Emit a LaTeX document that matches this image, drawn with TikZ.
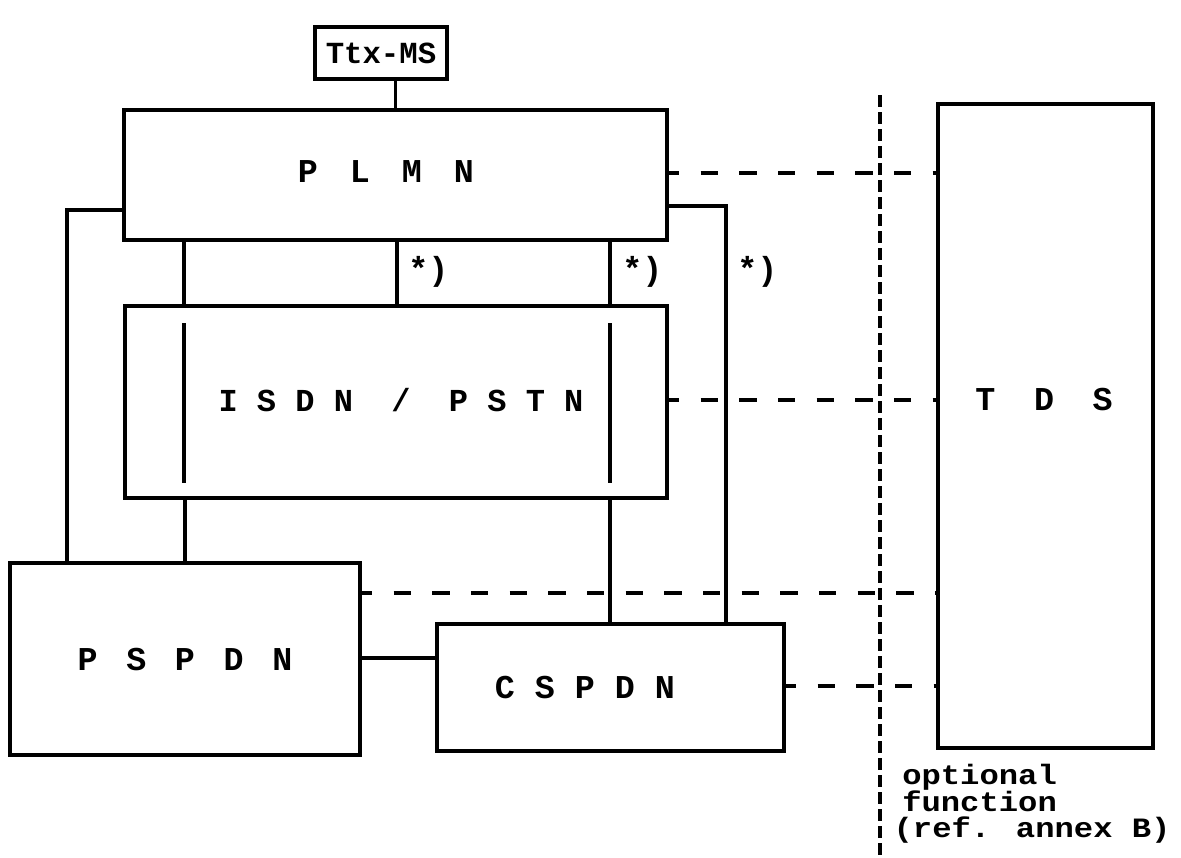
\documentclass[tikz,border=0pt]{standalone}
\usepackage{fontspec}
\setmonofont{Liberation Mono}
\newfontface\optfont[FakeStretch=1.15]{Liberation Mono Bold}
\begin{document}
\begin{tikzpicture}[x=0.75pt,y=-0.75pt,
  every node/.style={font=\ttfamily\bfseries\fontsize{25}{17.5}\selectfont},
  netbox/.style={draw, line width=2.5pt, rectangle, inner sep=0pt},
  wire/.style={line width=2.5pt},
  optline/.style={line width=2.3pt, dash pattern=on 13pt off 16pt, dash phase=5pt},
  sepline/.style={line width=3pt, dash pattern=on 9pt off 3.75pt},
  lbl/.style={inner sep=0pt}]
\useasboundingbox (0,0) rectangle (1181,857);
% boxes
\node[netbox, minimum width=99pt, minimum height=39pt, font=\ttfamily\bfseries\fontsize{23}{23}\selectfont] (ttx) at (381,53) {Ttx-MS};
\node[netbox, minimum width=407.25pt, minimum height=97.5pt] (plmn) at (395.5,175) {};
\node[netbox, minimum width=406.5pt, minimum height=144pt] (isdn) at (396,402) {};
\node[netbox, minimum width=262.5pt, minimum height=144pt] (pspdn) at (185,659) {};
\node[netbox, minimum width=260.25pt, minimum height=95.25pt] (cspdn) at (610.5,687.5) {};
\node[netbox, minimum width=161.25pt, minimum height=483pt] (tds) at (1045.5,426) {};
% texts
\node[lbl] (tplmn) at (386,172) {P\kern24pt L\kern24pt M\kern24pt N};
\node[lbl, font=\ttfamily\bfseries\fontsize{24}{17.5}\selectfont] (tisdn) at (401,400) {I S D N\ \ /\ \ P S T N};
\node[lbl] (tpspdn) at (185,660) {P\kern21.5pt S\kern21.5pt P\kern21.5pt D\kern21.5pt N};
\node[lbl] (tcspdn) at (585,688) {C S P D N};
\node[lbl] (ttds) at (1044,400) {T\kern29pt D\kern29pt S};
\node[lbl, anchor=north west, align=left,
  font=\optfont\fontsize{21}{20}\selectfont,
  execute at begin node={\lineskiplimit=-40pt\lineskip=0pt}]
  (topt) at (902,764) {optional\\function\\\kern-6.5pt(ref. annex B)};
\node[lbl, anchor=west] (s1) at (408,272) {*)};
\node[lbl, anchor=west] (s2) at (622,272) {*)};
\node[lbl, anchor=west] (s3) at (737,272) {*)};
% solid connectors
\draw[wire] (plmn.north) -- (plmn.north |- ttx.south);
\draw[wire] (184,0 |- plmn.south) -- (184,0 |- isdn.north);
\draw[wire] (397,0 |- plmn.south) -- (397,0 |- isdn.north);
\draw[wire] (610,0 |- plmn.south) -- (610,0 |- isdn.north);
\draw[wire] (184,323) -- (184,483);
\draw[wire] (610,323) -- (610,483);
\draw[wire] (plmn.west |- 0,210) -- (67,210) -- (67,0 |- pspdn.north);
\draw[wire] (plmn.east |- 0,206) -- (726,206) -- (726,0 |- cspdn.north);
\draw[wire] (185,0 |- isdn.south) -- (185,0 |- pspdn.north);
\draw[wire] (610,0 |- isdn.south) -- (610,0 |- cspdn.north);
\draw[wire] (pspdn.east |- 0,658) -- (cspdn.west |- 0,658);
% dashed links to TDS
\draw[optline] (plmn.east |- 0,173) -- (tds.west |- 0,173);
\draw[optline] (isdn.east |- 0,400) -- (tds.west |- 0,400);
\draw[optline] (pspdn.east |- 0,593) -- (tds.west |- 0,593);
\draw[optline] (cspdn.east |- 0,686) -- (tds.west |- 0,686);
% separator
\coordinate (vt) at (880,95);
\coordinate (vb) at (880,857);
\draw[sepline] (vt) -- (vb);
\end{tikzpicture}
\end{document}
